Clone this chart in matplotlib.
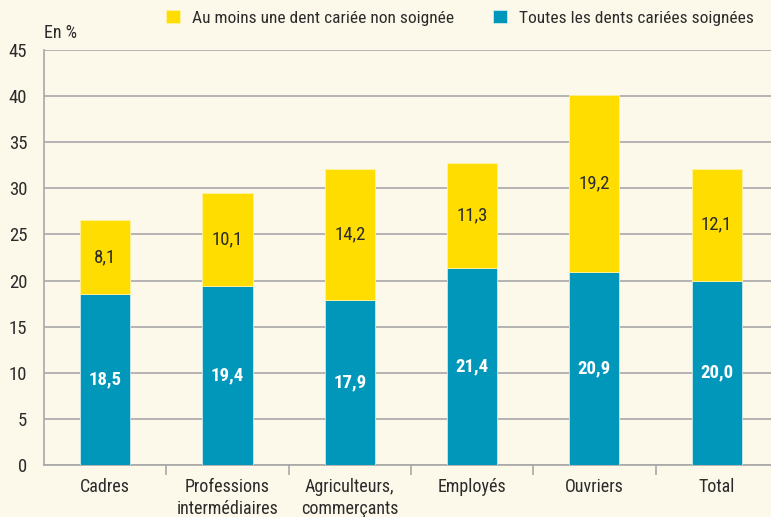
import matplotlib
matplotlib.use("Agg")
import matplotlib.pyplot as plt
import numpy as np

categories = ["Cadres", "Professions\nintermédiaires", "Agriculteurs,\ncommerçants", "Employés", "Ouvriers", "Total"]
soignees = [18.5, 19.4, 17.9, 21.4, 20.9, 20.0]
non_soignees = [8.1, 10.1, 14.2, 11.3, 19.2, 12.1]
yticks = [0, 5, 10, 15, 20, 25, 30, 35, 40, 45]

BG = "#FDF9EA"
YEL = "#FFDD00"
BLUE = "#0097BB"
GRID = "#A8A8A8"
TXT = "#2B2B2B"

plt.rcParams['font.family'] = ['Roboto Condensed', 'DejaVu Sans']

fig = plt.figure(figsize=(7.71, 5.17), dpi=100, facecolor=BG)
ax = fig.add_axes([44/771, 1 - 465/517, 1 - 44/771, (465 - 50)/517])
ax.set_facecolor(BG)

x = np.arange(len(categories))
w = 0.41
b1 = ax.bar(x, soignees, w, color=BLUE, edgecolor="#CDE8EE", linewidth=0.6, zorder=3,
            label="Toutes les dents cariées soignées")
b2 = ax.bar(x, non_soignees, w, bottom=soignees, color=YEL, edgecolor="#FFF3A0", linewidth=0.6, zorder=3,
            label="Au moins une dent cariée non soignée")

for xi, s, n in zip(x, soignees, non_soignees):
    ax.text(xi, s / 2, f"{s:.1f}".replace(".", ","), ha="center", va="center",
            color="white", fontsize=13.5, fontweight="bold", zorder=4)
    ax.text(xi, s + n / 2, f"{n:.1f}".replace(".", ","), ha="center", va="center",
            color=TXT, fontsize=13.5, zorder=4)

ax.set_ylim(0, 45)
ax.set_xlim(-0.5, 5.444)
ax.set_yticks(yticks)
ax.set_yticklabels([str(t) for t in yticks], fontsize=13.5, color=TXT)
ax.yaxis.grid(True, color=GRID, linewidth=1.2, zorder=0)
ax.tick_params(axis="y", length=0, pad=12)

ax.set_xticks(x)
ax.set_xticklabels(categories, fontsize=13, color=TXT, linespacing=1.35)
ax.tick_params(axis="x", which="major", length=0, pad=9)
ax.set_xticks(np.arange(0.5, 5.5, 1), minor=True)
ax.tick_params(axis="x", which="minor", length=7, width=1.2, color=GRID, direction="out")

for side in ["top", "right"]:
    ax.spines[side].set_visible(False)
ax.spines["left"].set_color(GRID)
ax.spines["left"].set_linewidth(1.2)
ax.spines["bottom"].set_color(GRID)
ax.spines["bottom"].set_linewidth(1.2)

fig.text(44/771, 1 - 33/517, "En %", fontsize=13, color=TXT, ha="left", va="center")

handles = [b2, b1]
labels = [h.get_label() for h in handles]
fig.legend(handles, labels, loc="center", bbox_to_anchor=(460/771, 1 - 18/517), ncol=2,
           frameon=False, fontsize=12.5, handlelength=0.8, handleheight=0.8,
           handletextpad=0.7, columnspacing=2.2, labelcolor=TXT)

fig.savefig("out.png", dpi=100, facecolor=BG)
